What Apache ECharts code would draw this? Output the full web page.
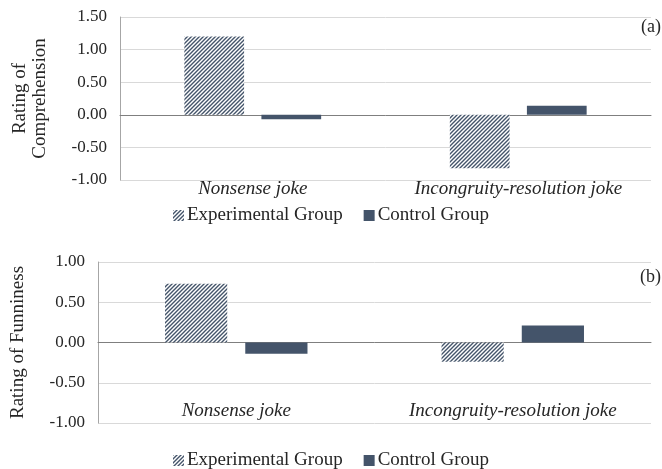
<!DOCTYPE html>
<html><head><meta charset="utf-8">
<script src="https://cdn.jsdelivr.net/npm/echarts@6/dist/echarts.min.js"></script>
<style>html,body{margin:0;padding:0;background:#fff}#c{width:662px;height:469px}</style>
</head><body><div id="c"></div>
<script>
var categories = ['Nonsense joke', 'Incongruity-resolution joke'];
var seriesNames = ['Experimental Group', 'Control Group'];
var comprehensionExp = [1.20, -0.82];
var comprehensionCtl = [-0.07, 0.14];
var funninessExp = [0.73, -0.24];
var funninessCtl = [-0.14, 0.21];
var compTicks = {min: -1, max: 1.5, interval: 0.5};
var funTicks = {min: -1, max: 1, interval: 0.5};

function hatch() {
  var s = 4, c = document.createElement('canvas');
  c.width = s; c.height = s;
  var g = c.getContext('2d');
  g.fillStyle = '#fff'; g.fillRect(0, 0, s, s);
  g.strokeStyle = '#44546a'; g.lineWidth = 1.4;
  g.beginPath();
  g.moveTo(-1, s + 1); g.lineTo(s + 1, -1);
  g.moveTo(-1, 1); g.lineTo(1, -1);
  g.moveTo(s - 1, s + 1); g.lineTo(s + 1, s - 1);
  g.stroke();
  return c;
}
var pat = {image: hatch(), repeat: 'repeat'};
var ctlColor = '#44546a';
var serif = '"Liberation Serif", "Times New Roman", serif';
var txt = '#262626';

function yAx(gi, t, name, fs) {
  return {
    type: 'value', gridIndex: gi, min: t.min, max: t.max, interval: t.interval,
    name: name, nameLocation: 'middle', nameGap: 70, nameRotate: 90,
    nameTextStyle: {fontFamily: serif, fontSize: fs, color: txt, lineHeight: 20},
    axisLine: {show: true, lineStyle: {color: '#a6a6a6', width: 1}},
    axisTick: {show: false},
    axisLabel: {fontFamily: serif, fontSize: 17, color: txt, margin: 13,
      formatter: function (v) { return v.toFixed(2); }},
    splitLine: {lineStyle: {color: '#d9d9d9', width: 1}}
  };
}
function xAxZero(gi) {
  return {type: 'category', gridIndex: gi, data: categories,
    axisLine: {onZero: true, lineStyle: {color: '#7f7f7f', width: 1}},
    axisTick: {show: false}, axisLabel: {show: false}};
}
function xAxLab(gi, margin) {
  return {type: 'category', gridIndex: gi, data: categories, position: 'bottom',
    axisLine: {show: false, onZero: false}, axisTick: {show: false},
    axisLabel: {interval: 0, hideOverlap: false, fontFamily: serif, fontSize: 19, fontStyle: 'italic', color: txt, margin: margin}};
}
function bar(name, data, xi, yi, color) {
  return {name: name, type: 'bar', xAxisIndex: xi, yAxisIndex: yi, data: data,
    barWidth: '22.5%', barGap: '29%', itemStyle: {color: color}, silent: true};
}
function legend(top) {
  return {top: top, left: 'center', itemWidth: 11, itemHeight: 11, itemGap: 21,
    icon: 'rect', data: seriesNames,
    textStyle: {fontFamily: serif, fontSize: 19, color: txt, padding: [0, 0, 0, -2]}};
}

var chart = echarts.init(document.getElementById('c'), null, {renderer: 'canvas'});
chart.setOption({
  animation: false,
  grid: [
    {left: 120, right: 11, top: 17, bottom: 289},
    {left: 97, right: 11, top: 262, bottom: 46}
  ],
  xAxis: [xAxZero(0), xAxLab(0, -1), xAxZero(1), xAxLab(1, -22)],
  yAxis: [yAx(0, compTicks, 'Rating of\nComprehension', 19), yAx(1, funTicks, 'Rating of Funniness', 19)],
  legend: [legend(201), legend(446)],
  series: [
    bar(seriesNames[0], comprehensionExp, 0, 0, pat),
    bar(seriesNames[1], comprehensionCtl, 0, 0, ctlColor),
    bar(seriesNames[0], funninessExp, 2, 1, pat),
    bar(seriesNames[1], funninessCtl, 2, 1, ctlColor)
  ],
  graphic: [
    {type: 'text', right: 1, top: 18, style: {text: '(a)', font: '18px ' + serif, fill: txt}},
    {type: 'text', right: 1, top: 268, style: {text: '(b)', font: '18px ' + serif, fill: txt}}
  ]
});
</script></body></html>
